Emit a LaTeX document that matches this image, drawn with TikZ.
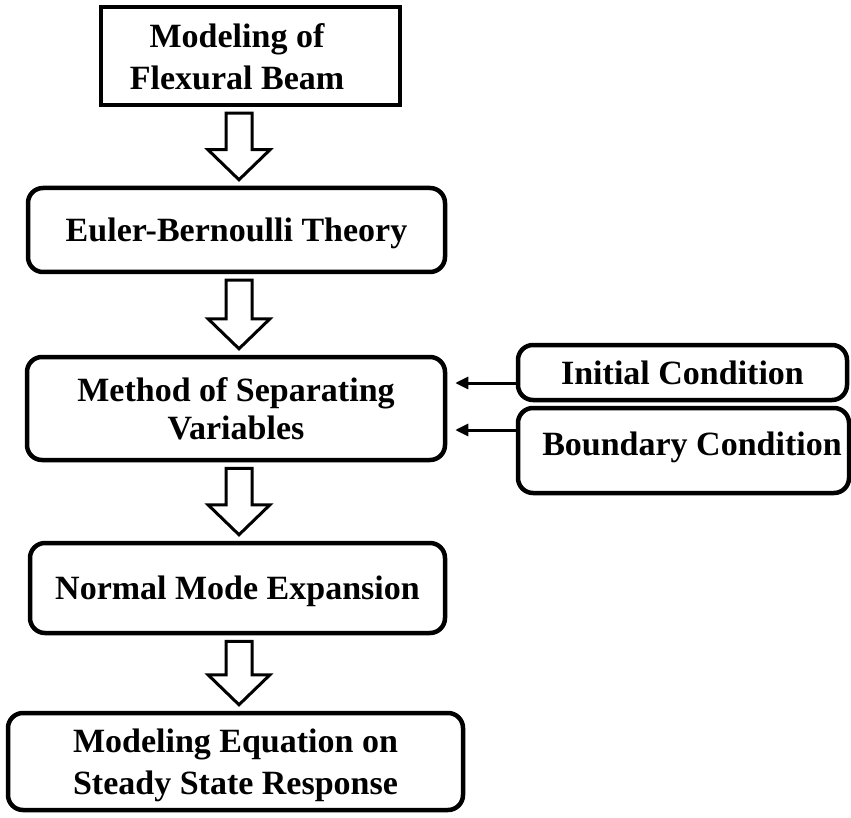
\documentclass[tikz,border=0pt]{standalone}
\usepackage{fontspec}
\setmainfont{Liberation Serif}
\usetikzlibrary{calc,arrows.meta}

\tikzset{
  every node/.style={font=\bfseries\fontsize{34}{42}\selectfont, align=center, text depth=0pt},
  plainbox/.style={draw, line width=4.5pt, rectangle, inner sep=0pt},
  roundbox/.style={plainbox, rounded corners=15pt},
  label/.style={inner sep=0pt},
  hollow/.style={draw, line width=3pt, line join=miter, fill=white},
  feed/.style={draw, line width=3pt, -{Triangle[length=13pt,width=12pt]}, shorten >=8pt},
}

% hollow block arrow between two stacked boxes
\newcommand\blockarrow[2]{%
  \path[hollow] let \p1=($(#1.south -| axis)+(0,6)$), \p2=($(#2.north -| axis)+(0,-6)$) in
    (\x1-13pt,\y1) -- (\x1+13pt,\y1) -- (\x1+13pt,\y2+30pt) -- (\x1+31pt,\y2+30pt)
    -- (\x2,\y2) -- (\x1-31pt,\y2+30pt) -- (\x1-13pt,\y2+30pt) -- cycle;
}

\begin{document}
\begin{tikzpicture}[x=1pt,y=-1pt]
  \useasboundingbox (0,0) rectangle (851,818);
  \coordinate (axis) at (239,0);

  % main column
  \node[plainbox, minimum width=299pt, minimum height=98pt] (b1) at (250.5,56) {};
  \node[label] (b1t) at (237,57) {Modeling of\\Flexural Beam};

  \node[roundbox, minimum width=417pt, minimum height=84pt] (b2) at (236.5,230) {Euler-Bernoulli Theory};

  \node[roundbox, minimum width=418pt, minimum height=103pt] (b3) at (236,408.5)
    {Method of Separating\\[-4pt]Variables};

  \node[roundbox, minimum width=415pt, minimum height=90pt] (b4) at (237.5,588) {Normal Mode Expansion};

  \node[roundbox, minimum width=455pt, minimum height=97pt] (b5) at (235.5,761.5)
    {Modeling Equation on\\Steady State Response};

  % side inputs
  \node[roundbox, minimum width=329pt, minimum height=55pt] (ic) at (682.5,372.5) {Initial Condition};
  \node[roundbox, minimum width=331pt, minimum height=85pt] (bc) at (683.5,450.5) {};
  \node[label] (bct) at (692,443.5) {Boundary Condition};

  % flow between the stages
  \blockarrow{b1}{b2}
  \blockarrow{b2}{b3}
  \blockarrow{b3}{b4}
  \blockarrow{b4}{b5}

  \coordinate (icout) at ([yshift=-10.5pt]ic.west);
  \coordinate (bcout) at ([yshift=20.5pt]bc.west);
  \draw[feed] (icout) -- (icout -| b3.east);
  \draw[feed] (bcout) -- (bcout -| b3.east);
\end{tikzpicture}
\end{document}
